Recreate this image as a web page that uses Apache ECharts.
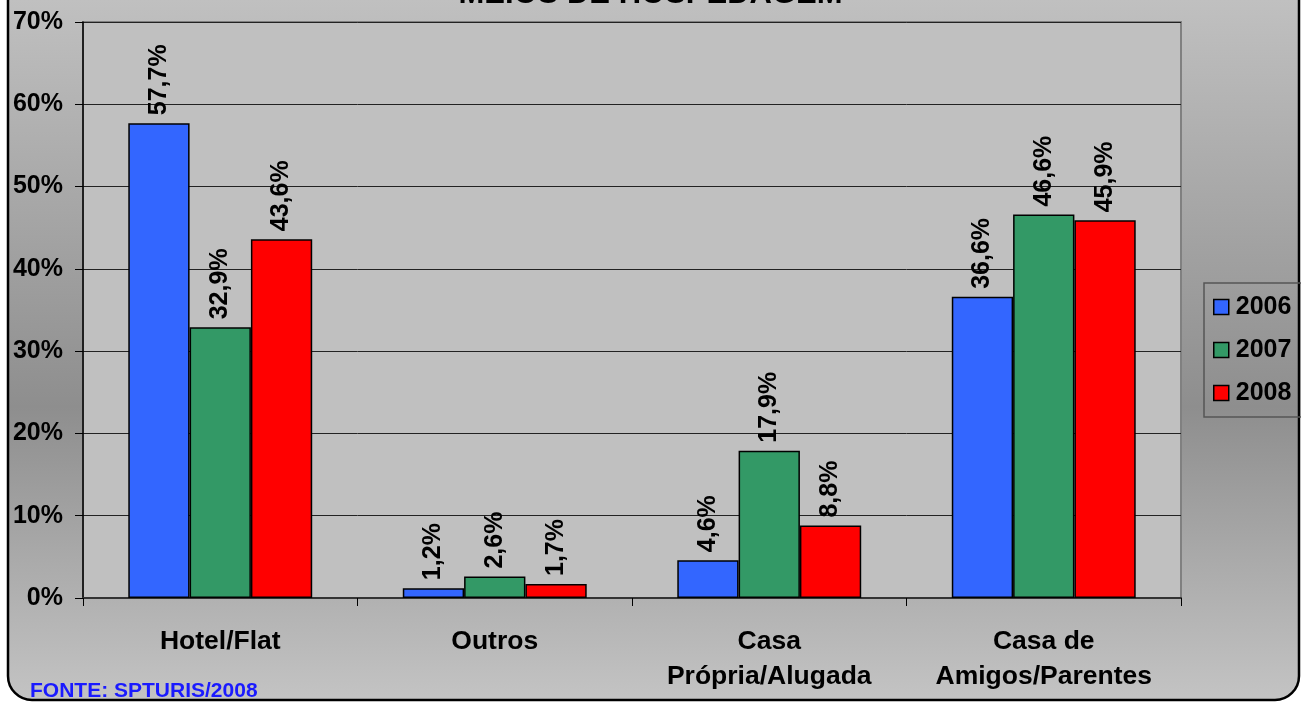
<!DOCTYPE html>
<html>
<head>
<meta charset="utf-8">
<script src="https://cdn.jsdelivr.net/npm/echarts@6/dist/echarts.min.js"></script>
<style>
  html, body { margin: 0; padding: 0; background: #fff; }
  #chart { width: 1301px; height: 702px; }
</style>
</head>
<body>
<div id="chart"></div>
<script>
  // dados
  var categorias = ['Hotel/Flat', 'Outros', 'Casa\nPrópria/Alugada', 'Casa de\nAmigos/Parentes']
  var anos = ['2006', '2007', '2008']
  var v2006 = [57.7, 1.2, 4.6, 36.6]
  var v2007 = [32.9, 2.6, 17.9, 46.6]
  var v2008 = [43.6, 1.7, 8.8, 45.9]
  var cores = ['#3366FF', '#339966', '#FF0000']

  var fonte = 'Arial, "Liberation Sans", sans-serif'
  var chart = echarts.init(document.getElementById('chart'))

  function fmt (v) {
    return v.toFixed(1).replace('.', ',') + '%'
  }

  function serie (nome, dados, cor) {
    return {
      name: nome,
      type: 'bar',
      data: dados,
      barGap: '0%',
      barCategoryGap: '33%',
      itemStyle: { color: cor, borderColor: '#000', borderWidth: 1.5 },
      label: {
        show: true,
        position: 'top',
        rotate: 90,
        align: 'left',
        verticalAlign: 'middle',
        distance: 8,
        fontFamily: fonte,
        fontWeight: 'bold',
        fontSize: 25,
        color: '#000',
        formatter: function (p) { return fmt(p.value) }
      }
    }
  }

  chart.setOption({
    backgroundColor: '#fff',
    animation: false,
    title: {
      text: 'MEIOS DE HOSPEDAGEM',
      left: 'center',
      top: -26,
      textStyle: { fontFamily: fonte, fontWeight: 'bold', fontSize: 31, color: '#000' }
    },
    graphic: [
      {
        type: 'rect',
        z: -10,
        silent: true,
        shape: { x: 8, y: -40, width: 1291, height: 740, r: 24 },
        style: {
          fill: {
            type: 'linear', x: 0, y: 0, x2: 0, y2: 702, global: true,
            colorStops: [
              { offset: 0, color: '#c0c0c0' },
              { offset: 0.58, color: '#8e8e8e' },
              { offset: 1, color: '#c4c4c4' }
            ]
          },
          stroke: '#000',
          lineWidth: 2.5
        }
      },
      {
        type: 'text',
        left: 30,
        top: 681,
        style: {
          text: 'FONTE: SPTURIS/2008',
          fill: '#1a1aff',
          font: 'bold 21px ' + fonte
        }
      }
    ],
    legend: {
      orient: 'vertical',
      left: 1204,
      top: 283,
      padding: [11, 10, 11, 9],
      itemGap: 17,
      itemWidth: 15,
      itemHeight: 15,
      borderColor: '#555',
      borderWidth: 1.5,
      icon: 'rect',
      itemStyle: { borderColor: '#000', borderWidth: 1.5 },
      textStyle: { fontFamily: fonte, fontWeight: 'bold', fontSize: 25, color: '#000', lineHeight: 26, padding: [0, 0, 0, 2] },
      data: anos
    },
    grid: {
      left: 83,
      right: 120,
      top: 22,
      bottom: 104,
      show: true,
      backgroundColor: '#c0c0c0',
      borderColor: '#808080',
      borderWidth: 2
    },
    xAxis: {
      type: 'category',
      data: categorias,
      axisLine: { lineStyle: { color: '#333', width: 2 } },
      axisTick: { show: true, length: 8, lineStyle: { color: '#000' } },
      axisLabel: {
        margin: 26,
        interval: 0,
        fontFamily: fonte,
        fontWeight: 'bold',
        fontSize: 26.5,
        lineHeight: 35,
        color: '#000'
      }
    },
    yAxis: {
      type: 'value',
      min: 0,
      max: 70,
      interval: 10,
      axisLine: { show: true, lineStyle: { color: '#000', width: 1.5 } },
      axisTick: { show: true, length: 8, lineStyle: { color: '#000' } },
      splitLine: { lineStyle: { color: '#222', width: 1 } },
      axisLabel: {
        margin: 20,
        fontFamily: fonte,
        fontWeight: 'bold',
        fontSize: 25,
        color: '#000',
        formatter: '{value}%'
      }
    },
    series: [
      serie(anos[0], v2006, cores[0]),
      serie(anos[1], v2007, cores[1]),
      serie(anos[2], v2008, cores[2])
    ]
  })
</script>
</body>
</html>
